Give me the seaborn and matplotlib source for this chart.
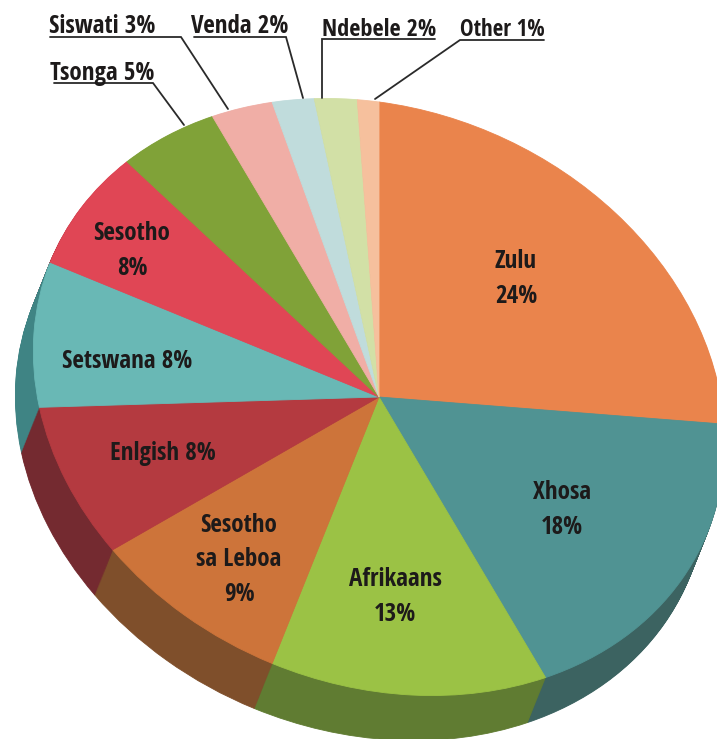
import matplotlib
matplotlib.use("Agg")
import matplotlib.pyplot as plt
import seaborn as sns
from matplotlib.transforms import Affine2D

sns.set_theme(style="white")
plt.rcParams['font.family'] = ['Open Sans Condensed', 'Roboto Condensed', 'DejaVu Sans']

languages = ["Zulu", "Xhosa", "Afrikaans", "Sesotho sa Leboa", "Enlgish", "Setswana",
             "Sesotho", "Tsonga", "Siswati", "Venda", "Ndebele", "Other"]
# slice sizes as drawn; the Sesotho slice measures 7 although its label prints 8%
shares = [24, 18, 13, 9, 8, 8, 7, 5, 3, 2, 2, 1]

top_colors = ["#ea844c", "#509393", "#9bc245", "#cd743a", "#b43a40", "#69b8b5",
              "#e04655", "#80a238", "#f0aea6", "#c0dcdc", "#d2e0a6", "#f6c09d"]
side_colors = ["#a85f36", "#3c6361", "#607c32", "#7f4f2b", "#742a30", "#3f8484",
               "#9a2f3a", "#5a7228", "#a87a74", "#869a9a", "#939d74", "#ac866e"]

fig = plt.figure(figsize=(7.17, 7.39), dpi=100, facecolor="white")
ax = fig.add_axes([0, 0, 1, 1])

# tilted ellipse in pixel coords, fitted to the rim of the pie
def pie_transform(dx=0, dy=0):
    return Affine2D.from_values(345.7, 45.75, 0, -295, 379 + dx, 397 + dy) + ax.transData

def draw_pie(colors, dx=0, dy=0):
    wedges, _ = ax.pie(shares, colors=sns.color_palette(colors), startangle=90, counterclock=False,
                       wedgeprops={"linewidth": 0})
    for w, c in zip(wedges, colors):
        w.set_transform(pie_transform(dx, dy))
        w.set_edgecolor(c)
        w.set_linewidth(0.6)

# side of the pie: stack of darker pies, from the bottom up
steps = 46
for i in range(steps, 0, -1):
    draw_pie(side_colors, -18 * i / steps, 45 * i / steps)
draw_pie(top_colors)

ax.set_aspect("auto")
ax.set_xlim(0, 717)
ax.set_ylim(739, 0)
ax.axis("off")

ink = "#1d1a1a"
inside = [("Zulu\n24%", 516, 279), ("Xhosa\n18%", 562, 510), ("Afrikaans\n13%", 395, 597),
          ("Sesotho\nsa Leboa\n9%", 239, 560), ("Enlgish 8%", 163, 454),
          ("Setswana 8%", 127, 362), ("Sesotho\n8%", 132, 251)]
for txt, x, y in inside:
    ax.text(x, y, txt, ha="center", va="center", fontsize=18, fontweight="bold",
            color=ink, linespacing=1.5)

outside = [("Siswati 3%", 49, 33, 18, [(50, 37), (181, 37), (228, 109)]),
           ("Venda 2%", 191, 33, 18, [(194, 37), (286, 37), (303, 98)]),
           ("Ndebele 2%", 322, 36, 17.5, [(322, 98), (322, 39), (435, 39)]),
           ("Other 1%", 460, 36, 16.5, [(375, 99), (460, 40), (544, 40)]),
           ("Tsonga 5%", 50, 80, 18, [(54, 83), (153, 83), (184, 125)])]
for txt, x, y, size, path in outside:
    ax.text(x, y, txt, ha="left", va="baseline", fontsize=size, fontweight="bold", color=ink)
    ax.plot([p[0] for p in path], [p[1] for p in path], color="#2a2a2a", lw=1.3,
            solid_joinstyle="miter")

fig.savefig("out.png", dpi=100, facecolor="white")
